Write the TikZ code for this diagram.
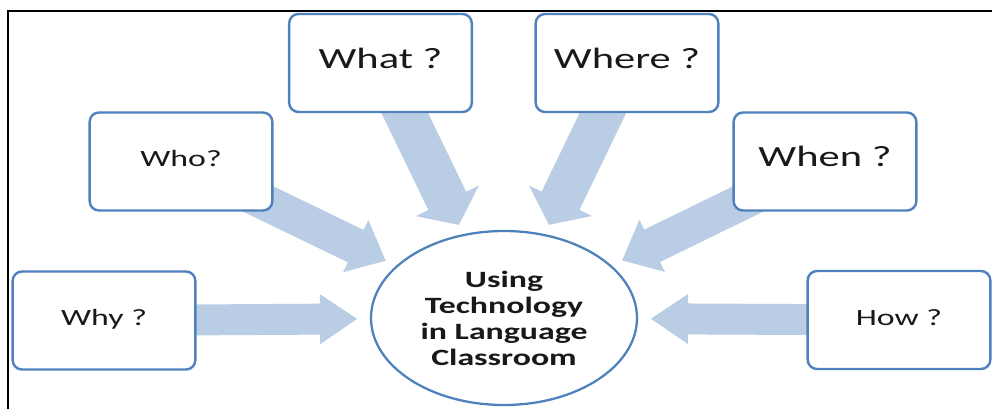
\documentclass[tikz,border=0pt]{standalone}
\usepackage{fontspec}
\setmainfont[FakeStretch=1.45]{Carlito}
\usetikzlibrary{calc,shapes.geometric}
\definecolor{boxblue}{RGB}{79,129,189}
\definecolor{arrowblue}{RGB}{185,205,229}
\definecolor{txtcol}{RGB}{25,25,25}
\pgfdeclarelayer{bg}
\pgfsetlayers{bg,main}
% #1 start node, #2 tip coordinate, #3 shaft half-width, #4 head half-width, #5 head length
\newcommand\blkarrow[5]{%
  \fill[arrowfill]
    ($(#1)!#3!90:(#2)$) --
    ($(#2)!#5!(#1)!#3!90:(#2)$) --
    ($(#2)!#5!(#1)!#4!90:(#2)$) --
    (#2) --
    ($(#2)!#5!(#1)!#4!-90:(#2)$) --
    ($(#2)!#5!(#1)!#3!-90:(#2)$) --
    ($(#1)!#3!-90:(#2)$) -- cycle;}
\tikzset{
  qbox/.style={draw=boxblue, line width=1.8pt, fill=white, rounded corners=7pt,
    minimum width=137pt, minimum height=73.5pt, inner sep=0pt,
    text height=7.5pt, text depth=0pt, text=txtcol},
  bigq/.style={qbox, font=\fontsize{22}{26}\selectfont},
  smallq/.style={qbox, font=\fontsize{17.5}{21}\selectfont},
  coreell/.style={ellipse, draw=boxblue, line width=1.7pt, fill=white,
    minimum width=199.5pt, minimum height=130.5pt, inner sep=0pt,
    align=center, text=txtcol, font=\fontsize{17.5}{19.5}\selectfont\bfseries},
  arrowfill/.style={fill=arrowblue},
  framepen/.style={draw=black, line width=1.6pt}
}
\begin{document}
\begin{tikzpicture}[x=0.75pt, y=-0.75pt]
\useasboundingbox (0,0) rectangle (992,408);
\draw[framepen] (8,410) -- (8,11) -- (994,11);

\node[coreell] (core) at (504,318) {Using\\Technology\\in Language\\Classroom};

\node[bigq]   (what)  at (380.5,63)  {What ?};
\node[bigq]   (where) at (627,63)    {Where ?};
\node[smallq] (who)   at (181,161.5) {Who?};
\node[bigq]   (when)  at (825,161.5) {When ?};
\node[smallq] (why)   at (104,320.5) {Why ?};
\node[smallq] (how)   at (899,320)   {How ?};

\coordinate (tWhat)  at ($(core)!77.6pt!(what)$);
\coordinate (tWhere) at ($(core)!77.6pt!(where)$);
\coordinate (tWho)   at ($(core)!98.6pt!(who)$);
\coordinate (tWhen)  at ($(core)!98.6pt!(when)$);
\coordinate (tWhy)   at ($(core)!110.25pt!(why)$);
\coordinate (tHow)   at ($(core)!110.25pt!(how)$);

\begin{pgfonlayer}{bg}
\fill[white] (0,0) rectangle (992,408);
\blkarrow{what}{tWhat}{15.75pt}{26.25pt}{20pt}
\blkarrow{where}{tWhere}{15.75pt}{26.25pt}{20pt}
\blkarrow{who}{tWho}{13.5pt}{21.75pt}{25pt}
\blkarrow{when}{tWhen}{13.5pt}{21.75pt}{25pt}
\blkarrow{why}{tWhy}{11.6pt}{18.75pt}{27.75pt}
\blkarrow{how}{tHow}{11.6pt}{18.75pt}{27.75pt}
\end{pgfonlayer}
\end{tikzpicture}
\end{document}
